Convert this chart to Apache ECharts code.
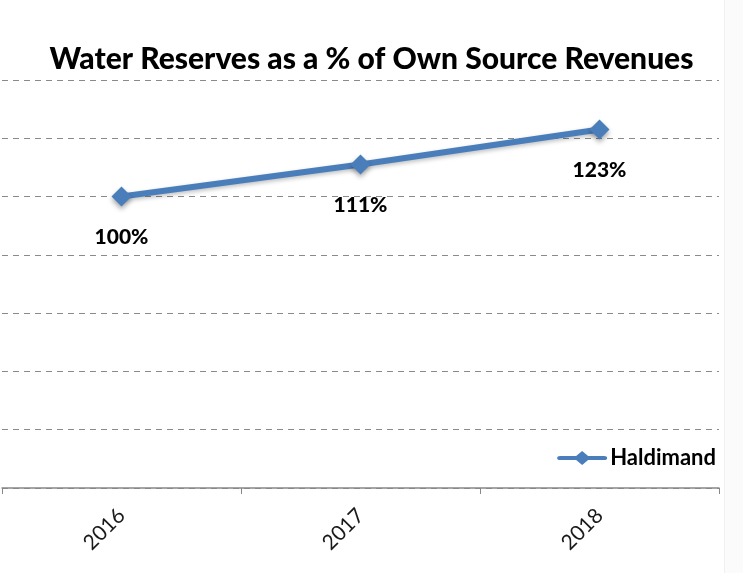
<!DOCTYPE html>
<html>
<head>
<meta charset="utf-8">
<script src="https://cdn.jsdelivr.net/npm/echarts@6/dist/echarts.min.js"></script>
<style>
  html, body { margin: 0; padding: 0; background: #fff; }
  #chart { width: 743px; height: 573px; }
</style>
</head>
<body>
<div id="chart"></div>
<script>
// Water reserves relative to own-source revenues, by year
const years = ['2016', '2017', '2018'];
const haldimand = [100, 111, 123];
const seriesName = 'Haldimand';
const titleText = 'Water Reserves as a % of Own Source Revenues';

// legend marker: a thick line with a diamond in the middle
const lineDiamondIcon = 'path://M3,5 L19,5 L25,0 L31,5 L47,5 Q50,5 50,7 Q50,9 47,9 L31,9 L25,14 L19,9 L3,9 Q0,9 0,7 Q0,5 3,5 Z';

const chart = echarts.init(document.getElementById('chart'));

chart.setOption({
  backgroundColor: '#ffffff',
  animation: false,
  graphic: [
    // pale frame strip along the right edge
    { type: 'rect', right: 0, top: 0, shape: { width: 18, height: 573 }, style: { fill: '#fbfbfc' }, silent: true },
    { type: 'rect', left: 724, top: 0, shape: { width: 1, height: 573 }, style: { fill: '#f0f1f3' }, silent: true }
  ],
  title: {
    text: titleText,
    left: 'center',
    top: 39,
    textStyle: {
      fontFamily: 'Lato',
      fontWeight: 900,
      fontSize: 30,
      color: '#000'
    }
  },
  legend: {
    right: 22,
    top: 442,
    itemWidth: 50,
    itemHeight: 14,
    itemGap: 4,
    textStyle: {
      fontFamily: 'Lato',
      fontWeight: 700,
      fontSize: 22,
      color: '#000',
      padding: [0, 0, 0, -2]
    },
    data: [{ name: seriesName, icon: lineDiamondIcon }]
  },
  grid: {
    left: 2,
    right: 24,
    top: 80,
    bottom: 85,
    containLabel: false
  },
  xAxis: {
    type: 'category',
    data: years,
    boundaryGap: true,
    axisLine: { lineStyle: { color: '#888', width: 1.5 } },
    axisTick: { show: true, length: 6, lineStyle: { color: '#888' } },
    axisLabel: {
      rotate: 45,
      margin: 24,
      fontFamily: 'Lato',
      fontSize: 21,
      color: '#1a1a1a'
    }
  },
  yAxis: {
    type: 'value',
    min: 0,
    max: 140,
    interval: 20,
    axisLabel: { show: false },
    axisLine: { show: false },
    axisTick: { show: false },
    splitLine: {
      lineStyle: { color: '#8a8a8a', type: [6, 5], width: 1.2 }
    }
  },
  series: [{
    name: seriesName,
    type: 'line',
    data: haldimand,
    symbol: 'diamond',
    symbolSize: 20,
    lineStyle: {
      color: '#4a7ebb',
      width: 6,
      shadowColor: 'rgba(0,0,0,0.25)',
      shadowBlur: 4,
      shadowOffsetY: 2
    },
    itemStyle: {
      color: '#4a7ebb',
      shadowColor: 'rgba(0,0,0,0.35)',
      shadowBlur: 5,
      shadowOffsetY: 3
    },
    label: {
      show: true,
      position: 'bottom',
      distance: 20,
      formatter: p => p.value + '%',
      fontFamily: 'Lato',
      fontWeight: 900,
      fontSize: 21,
      color: '#000'
    }
  }]
});
</script>
</body>
</html>
